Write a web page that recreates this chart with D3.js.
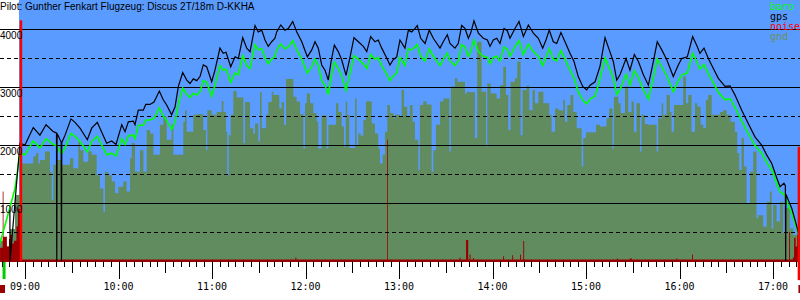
<!DOCTYPE html>
<html>
<head>
<meta charset="utf-8">
<script src="https://cdn.jsdelivr.net/npm/d3@7"></script>
<style>
  body { margin: 0; background: #fff; }
  svg { display: block; }
</style>
</head>
<body>
<div class="chart"></div>
<script>
// times are minutes after 09:00, heights in metres

const gpsTime = [-9.7, -9.6, -6.4, -3.2, 0, 5.3, 9.6, 13.5, 18.2, 20.2,
    20.4, 20.6, 23.2, 23.4, 23.6, 25.7, 29.5, 32.1, 35.3, 40.0,
    42.8, 46.4, 48.1, 52.4, 55.6, 58.4, 62.1, 64.2, 66.3, 69.5,
    70.6, 72.7, 75.9, 77.5, 80.2, 82.8, 86.2, 88.7, 90.9, 94.1,
    96.3, 98.4, 101.2, 103.8, 105.9, 108.0, 110.2, 112.3, 114.4, 116.6,
    119.8, 121.9, 125.1, 127.2, 129.0, 132.0, 134.8, 136.9, 139.7, 142.3,
    144.4, 147.6, 149.7, 151.9, 154.0, 156.1, 158.3, 160.4, 161.5, 164.1,
    166.8, 169.0, 171.8, 174.4, 177.6, 181.2, 184.0, 186.1, 188.2, 190.4,
    192.5, 194.6, 196.4, 198.5, 201.0, 203.2, 206.0, 208.6, 211.1, 213.9,
    217.1, 219.3, 221.8, 224.6, 226.7, 228.9, 231.7, 234.2, 236.3, 238.5,
    240.6, 243.8, 246.0, 248.1, 250.3, 251.7, 253.9, 256.7, 259.4, 262.0,
    266.3, 268.4, 271.0, 272.7, 275.9, 278.0, 280.2, 282.3, 284.5, 286.0,
    288.1, 290.9, 294.1, 296.7, 298.4, 300.5, 302.7, 304.8, 307.4, 309.5,
    311.2, 314.4, 317.0, 319.8, 323.0, 326.2, 329.4, 332.2, 334.3, 336.4,
    339.0, 341.2, 343.9, 346.5, 349.7, 352.3, 355.0, 357.9, 360.4, 362.6,
    365.8, 369.0, 372.2, 374.9, 377.5, 379.7, 381.8, 385.7, 388.2, 391.0,
    393.6, 396.8, 400.0, 403.2, 405.7, 408.6, 411.8, 416.0, 419.2, 421.4,
    425.0, 428.4, 431.0, 433.1, 435.7, 438.5, 441.7, 444.9, 449.2, 452.4,
    455.6, 459.9, 464.1, 468.4, 472.7, 475.9, 479.2, 482.4, 484.5, 487.0,
    487.9, 488.1, 488.3, 489.8, 492.0, 494.7, 496.2, 497.3];

const gpsAlt = [880, 0, 1020, 2030, 2000, 2300, 2170, 2350, 2230, 2210,
    0, 2200, 2050, 0, 2040, 2170, 2450, 2390, 2290, 2090,
    2290, 2390, 2290, 2030, 2070, 2010, 2350, 2230, 2400, 2410,
    2350, 2600, 2600, 2700, 2700, 2740, 2930, 2780, 2690, 2520,
    2660, 3010, 3250, 3120, 3060, 3140, 3110, 3180, 3380, 3350,
    3090, 3290, 3670, 3580, 3600, 3350, 3520, 3490, 3850, 3670,
    3610, 4060, 3950, 3980, 3810, 3700, 3780, 3840, 3950, 4070,
    3980, 4010, 4130, 3950, 3780, 3520, 3640, 3780, 3670, 3380,
    3290, 3120, 3440, 3720, 3610, 3470, 3200, 3520, 3850, 3780,
    3700, 3610, 3870, 3780, 3810, 3670, 3520, 3380, 3470, 3520,
    3810, 3670, 3980, 3950, 4010, 4060, 3840, 3750, 3980, 3840,
    3670, 3780, 3900, 3750, 3670, 3750, 4060, 4010, 3840, 3930,
    4140, 3930, 3840, 3810, 3700, 3810, 3840, 3750, 4010, 3970,
    3840, 4010, 4130, 3870, 4070, 3930, 3840, 3670, 3810, 3980,
    3780, 3750, 3940, 3780, 3580, 3440, 3180, 3010, 2950, 3030,
    3090, 3360, 3850, 3640, 3440, 3120, 3210, 3490, 3290, 3560,
    3440, 3210, 3030, 3440, 3780, 3640, 3470, 3180, 3380, 3490,
    3520, 3870, 3720, 3580, 3670, 3490, 3320, 3150, 3010, 3020,
    2860, 2600, 2370, 2140, 2000, 1830, 1680, 1430, 1280, 1340,
    1300, 0, 1150, 1050, 910, 650, 500, 330];

const baro = [[-16.0, 310], [-9.6, 930], [-6.4, 1250], [-3.2, 1860], [0, 1830], [5.3, 2070],
    [9.6, 1950], [13.5, 2110], [18.2, 2010], [20.4, 1990], [23.4, 1840], [25.7, 1950],
    [29.5, 2200], [32.1, 2150], [35.3, 2060], [40.0, 1880], [42.8, 2060], [46.4, 2150],
    [48.1, 2060], [52.4, 1830], [55.6, 1860], [58.4, 1810], [62.1, 2110], [64.2, 2010],
    [66.3, 2160], [69.5, 2170], [70.6, 2110], [72.7, 2340], [75.9, 2340], [77.5, 2430],
    [80.2, 2430], [82.8, 2460], [86.2, 2640], [88.7, 2500], [90.9, 2420], [94.1, 2270],
    [96.3, 2400], [98.4, 2710], [101.2, 2980], [103.8, 2870], [105.9, 2820], [108.0, 2890],
    [110.2, 2860], [112.3, 2920], [114.4, 3110], [116.6, 3080], [119.8, 2840], [121.9, 3030],
    [125.1, 3370], [127.2, 3290], [129.0, 3310], [132.0, 3080], [134.8, 3240], [136.9, 3210],
    [139.7, 3540], [142.3, 3370], [144.4, 3320], [147.6, 3730], [149.7, 3640], [151.9, 3660],
    [154.0, 3510], [156.1, 3400], [158.3, 3480], [160.4, 3530], [161.5, 3640], [164.1, 3740],
    [166.8, 3660], [169.0, 3690], [171.8, 3800], [174.4, 3640], [177.6, 3480], [181.2, 3240],
    [184.0, 3350], [186.1, 3480], [188.2, 3370], [190.4, 3110], [192.5, 3030], [194.6, 2870],
    [196.4, 3160], [198.5, 3430], [201.0, 3320], [203.2, 3190], [206.0, 2940], [208.6, 3240],
    [211.1, 3540], [213.9, 3480], [217.1, 3400], [219.3, 3320], [221.8, 3560], [224.6, 3480],
    [226.7, 3510], [228.9, 3370], [231.7, 3240], [234.2, 3110], [236.3, 3190], [238.5, 3240],
    [240.6, 3510], [243.8, 3370], [246.0, 3660], [248.1, 3640], [250.3, 3690], [251.7, 3730],
    [253.9, 3530], [256.7, 3450], [259.4, 3660], [262.0, 3530], [266.3, 3370], [268.4, 3480],
    [271.0, 3580], [272.7, 3450], [275.9, 3370], [278.0, 3450], [280.2, 3730], [282.3, 3690],
    [284.5, 3530], [286.0, 3610], [288.1, 3810], [290.9, 3610], [294.1, 3530], [296.7, 3510],
    [298.4, 3400], [300.5, 3510], [302.7, 3530], [304.8, 3450], [307.4, 3690], [309.5, 3650],
    [311.2, 3530], [314.4, 3690], [317.0, 3800], [319.8, 3560], [323.0, 3740], [326.2, 3610],
    [329.4, 3530], [332.2, 3370], [334.3, 3510], [336.4, 3660], [339.0, 3480], [341.2, 3450],
    [343.9, 3630], [346.5, 3480], [349.7, 3290], [352.3, 3160], [355.0, 2920], [357.9, 2770],
    [360.4, 2710], [362.6, 2790], [365.8, 2840], [369.0, 3150], [372.2, 3500], [374.9, 3330],
    [377.5, 3150], [379.7, 2870], [381.8, 2950], [385.7, 3220], [388.2, 3030], [391.0, 3280],
    [393.6, 3160], [396.8, 2950], [400.0, 2790], [403.2, 3160], [405.7, 3480], [408.6, 3350],
    [411.8, 3190], [416.0, 2920], [419.2, 3110], [421.4, 3210], [425.0, 3240], [428.4, 3580],
    [431.0, 3440], [433.1, 3310], [435.7, 3390], [438.5, 3230], [441.7, 3070], [444.9, 2910],
    [449.2, 2780], [452.4, 2800], [455.6, 2650], [459.9, 2410], [464.1, 2200], [468.4, 1990],
    [472.7, 1860], [475.9, 1700], [479.2, 1570], [482.4, 1330], [484.5, 1190], [487.0, 1150],
    [489.8, 960], [492.0, 820], [494.7, 600], [496.2, 470], [497.3, 330]];

const gnd = [[-16.0, 350], [-12.8, 250], [-9.6, 550], [-6.4, 1140], [-2.1, 1680], [5.3, 1800],
    [7.1, 1860], [8.6, 1680], [9.6, 1740], [12.8, 1890], [16.0, 1540], [17.1, 1050],
    [18.2, 1660], [20.3, 1740], [23.5, 1660], [28.9, 1770], [31.0, 1600], [34.2, 2060],
    [35.3, 1910], [37.4, 1710], [40.6, 1890], [42.8, 1830], [46.0, 1480], [48.1, 1250],
    [50.3, 850], [51.3, 1540], [53.5, 1480], [55.6, 1370], [57.8, 1170], [59.9, 1280],
    [63.1, 1370], [65.2, 1200], [67.4, 1770], [68.5, 2030], [70.6, 1540], [73.8, 1910],
    [76.0, 1540], [78.1, 2260], [80.2, 2200], [82.4, 1830], [86.6, 2350], [88.8, 2490],
    [90.9, 2090], [94.1, 2350], [95.2, 1830], [101.6, 2400], [102.7, 2600], [103.7, 2230],
    [108.0, 2520], [110.2, 2530], [114.4, 2260], [116.1, 1910], [117.0, 2600], [119.8, 2520],
    [123.0, 2570], [126.2, 2760], [127.3, 2570], [129.0, 2230], [129.8, 1480], [130.7, 2170],
    [132.0, 2520], [133.7, 2930], [135.8, 2820], [140.1, 2030], [141.2, 2740], [144.4, 2290],
    [146.5, 2200], [147.6, 2370], [149.7, 2060], [150.8, 2910], [151.9, 2290], [154.7, 2520],
    [156.1, 2740], [158.3, 2920], [159.4, 2860], [163.2, 2630], [164.7, 2740], [166.2, 2350],
    [167.5, 3140], [172.2, 2830], [174.3, 2750], [176.5, 2530], [178.6, 1940], [179.7, 2720],
    [180.8, 2890], [182.9, 2720], [185.0, 2550], [187.2, 2400], [188.2, 1940], [190.4, 2510],
    [193.6, 1940], [194.7, 2350], [199.6, 2720], [201.1, 2570], [203.2, 2320], [204.7, 1970],
    [205.8, 2750], [206.8, 2520], [208.1, 1950], [211.8, 2800], [212.8, 2000], [213.9, 2200],
    [215.4, 2160], [217.1, 2430], [218.8, 2750], [222.5, 2370], [224.6, 2200], [226.7, 1940],
    [227.8, 1680], [229.5, 1830], [231.0, 2230], [232.5, 2690], [234.2, 2550], [236.4, 2460],
    [237.4, 2520], [240.6, 2490], [241.7, 2950], [243.2, 2660], [245.3, 2490], [247.0, 2690],
    [248.7, 2400], [250.2, 2090], [252.4, 1570], [253.4, 2690], [255.6, 2750], [257.7, 2700],
    [260.9, 1540], [262.0, 1910], [263.7, 2350], [266.3, 2750], [268.4, 2800], [272.3, 1890],
    [273.3, 3010], [275.9, 3150], [277.4, 3090], [282.3, 2890], [283.4, 2920], [285.5, 2910],
    [288.7, 2120], [290.2, 3780], [293.0, 2920], [295.8, 1970], [296.6, 3060], [298.8, 2890],
    [302.6, 2800], [304.8, 3030], [306.9, 3350], [308.6, 2860], [310.1, 2260], [311.6, 3090],
    [314.4, 3150], [315.9, 3440], [318.0, 2170], [319.3, 2950], [321.9, 3020], [323.6, 2600],
    [325.7, 2950], [327.2, 2720], [329.4, 2920], [332.6, 2720], [336.4, 2520], [337.9, 2230],
    [340.1, 2630], [342.2, 2600], [345.4, 2780], [346.5, 2400], [348.0, 2690], [350.1, 2860],
    [351.8, 2570], [354.0, 2290], [357.2, 1630], [358.2, 2120], [360.0, 2220], [366.4, 2350],
    [368.9, 2320], [373.2, 2460], [374.9, 2630], [377.0, 1940], [377.9, 2830], [380.7, 2720],
    [382.2, 2550], [385.0, 3010], [387.1, 2570], [389.2, 2750], [390.7, 2230], [392.4, 2720],
    [394.6, 1890], [395.6, 2520], [397.8, 2360], [399.9, 2350], [405.3, 1890], [406.3, 2460],
    [408.5, 2720], [409.5, 2520], [411.7, 2860], [413.8, 2570], [414.9, 2230], [416.4, 2690],
    [422.4, 3180], [424.1, 2720], [425.6, 2860], [427.7, 2230], [429.9, 2720], [431.4, 2660],
    [433.5, 2350], [435.2, 2290], [436.9, 2780], [438.4, 2860], [440.6, 2520], [445.9, 2570],
    [448.0, 2600], [450.2, 2520], [452.7, 2400], [455.5, 2230], [457.0, 1860], [458.3, 1570],
    [459.8, 2120], [461.3, 1630], [463.0, 990], [465.2, 1540], [467.3, 1890], [469.4, 740],
    [470.5, 790], [473.7, 590], [475.9, 1020], [478.0, 1200], [479.1, 560], [480.1, 970],
    [482.3, 680], [484.4, 1020], [486.5, 480], [487.6, 910], [490.8, 560], [493.0, 450],
    [497.3, 450]];

const noise = [[-16.0, 230], [-14.3, 1200], [-13.8, 420], [-11.6, 250], [-10.3, 380], [-9.6, 450],
    [-8.3, 300], [-7.1, 350], [-5.5, 600], [-4.5, 900], [-2.1, 25], [173.5, 60], [174.1, 25],
    [232.4, 2090], [232.9, 25], [278.9, 60], [279.5, 25], [283.0, 360], [284.4, 25],
    [285.3, 110], [285.9, 25], [287.4, 50], [288.0, 25], [306.8, 80], [307.4, 25],
    [312.6, 100], [313.2, 25], [317.7, 110], [318.3, 25], [319.7, 345], [320.3, 25],
    [379.8, 45], [380.4, 25], [388.0, 45], [389.5, 25], [418.0, 45], [418.6, 25],
    [428.0, 110], [428.6, 25], [490.3, 500], [490.9, 25], [492.7, 60], [493.5, 400],
    [494.5, 250], [495.5, 480], [496.5, 350], [497.3, 350]];

// start / landing markers
const markers = [{t: -2.6, top: 4150, bottom: 0}, {t: 496.6, top: 1970, bottom: -330}];

const yGrid = [500, 1000, 1500, 2000, 2500, 3000, 3500, 4000];
const yLabels = [1000, 2000, 3000, 4000];
const legend = [
    {name: 'baro', color: '#00ff00'},
    {name: 'gps', color: '#000000'},
    {name: 'noise', color: '#ff0000'},
    {name: 'gnd', color: '#6b8f5e'}
];
const title = 'Pilot: Gunther Fenkart Flugzeug: Discus 2T/18m D-KKHA';

const fullWidth = 800;
const fullHeight = 300;

const svg = d3.select('.chart')
    .append('svg')
        .attr('width', fullWidth)
        .attr('height', fullHeight);

const x = d3.scaleLinear()
    .domain([-16.04, 497.3])
    .range([0, fullWidth]);

const y = d3.scaleLinear()
    .domain([0, 4000])
    .range([261, 29]);

// sky from take off on
svg.append('rect')
    .attr('x', Math.round(x(markers[0].t)) - 2)
    .attr('y', 0)
    .attr('width', fullWidth - Math.round(x(markers[0].t)) + 2)
    .attr('height', y(0))
    .attr('fill', '#5a9bff');

svg.append('path')
    .datum(gnd)
    .attr('fill', '#608c60')
    .attr('d', d3.area()
        .curve(d3.curveStepAfter)
        .x(d => x(d[0]))
        .y0(y(0))
        .y1(d => y(d[1])));

svg.append('path')
    .datum(noise)
    .attr('fill', '#9b0000')
    .attr('d', d3.area()
        .curve(d3.curveStepAfter)
        .x(d => x(d[0]))
        .y0(y(0) + 1)
        .y1(d => y(d[1])));

svg.append('g')
    .selectAll('line')
    .data(yGrid)
    .enter()
    .append('line')
    .attr('x1', 0)
    .attr('x2', fullWidth)
    .attr('y1', d => Math.round(y(d)) + 0.5)
    .attr('y2', d => Math.round(y(d)) + 0.5)
    .attr('stroke', '#000')
    .attr('stroke-dasharray', d => d % 1000 ? '4,3' : null)
    .attr('shape-rendering', 'crispEdges');

const gps = gpsTime.map((t, i) => [t, gpsAlt[i]]);

svg.append('path')
    .datum(baro)
    .attr('fill', 'none')
    .attr('stroke', '#00ff00')
    .attr('stroke-width', 1.6)
    .attr('d', d3.line().x(d => x(d[0])).y(d => y(d[1])));

svg.append('path')
    .datum(gps)
    .attr('fill', 'none')
    .attr('stroke', '#000')
    .attr('stroke-width', 1.2)
    .attr('d', d3.line().x(d => x(d[0])).y(d => y(d[1])));

svg.selectAll('.marker')
    .data(markers)
    .enter()
    .append('line')
    .attr('class', 'marker')
    .attr('x1', d => x(d.t))
    .attr('x2', d => x(d.t))
    .attr('y1', d => y(d.top))
    .attr('y2', d => y(d.bottom))
    .attr('stroke', '#ff0000')
    .attr('stroke-width', 2.5);

// small event marks under the axis
svg.append('rect').attr('x', x(-14.4)).attr('y', 262).attr('width', 3).attr('height', 17).attr('fill', '#00cc00');
svg.selectAll('.evt')
    .data([-16.04, 496.3])
    .enter()
    .append('rect')
    .attr('class', 'evt')
    .attr('x', d => x(d))
    .attr('y', 285)
    .attr('width', d => Math.min(5, fullWidth - x(d)))
    .attr('height', 8)
    .attr('fill', '#9b0000');

// time axis: 5 min, 30 min and hour ticks
const ticks = d3.range(-15, 496, 5);
const tickLen = m => m % 60 === 0 ? 18 : (m % 30 === 0 ? 12 : 6);

const xAxis = d3.axisBottom(x)
    .tickValues(ticks)
    .tickSize(0)
    .tickFormat('');

const axisG = svg.append('g')
    .attr('transform', `translate(0, ${y(0)})`)
    .call(xAxis);
axisG.select('.domain').remove();
axisG.selectAll('.tick line')
    .attr('y2', d => tickLen(d))
    .attr('stroke', '#000')
    .attr('shape-rendering', 'crispEdges');

svg.append('g')
    .selectAll('text')
    .data(ticks.filter(m => m % 60 === 0))
    .enter()
    .append('text')
    .attr('x', d => x(d))
    .attr('y', 290)
    .attr('text-anchor', 'middle')
    .style('font', '10px "DejaVu Sans Mono", monospace')
    .text(d => d3.format('02d')(9 + d / 60) + ':00');

svg.append('g')
    .selectAll('text')
    .data(yLabels)
    .enter()
    .append('text')
    .attr('x', 0)
    .attr('y', d => y(d) + 10)
    .style('font', '10px "Liberation Sans", Arial, sans-serif')
    .text(d => d);

svg.append('text')
    .attr('x', 0)
    .attr('y', 10)
    .style('font', '10px "Liberation Sans", Arial, sans-serif')
    .text(title);

svg.append('g')
    .selectAll('text')
    .data(legend)
    .enter()
    .append('text')
    .attr('x', 770)
    .attr('y', (d, i) => 10 + i * 10)
    .attr('fill', d => d.color)
    .style('font', '10px "DejaVu Sans Mono", monospace')
    .text(d => d.name);
</script>
</body>
</html>
